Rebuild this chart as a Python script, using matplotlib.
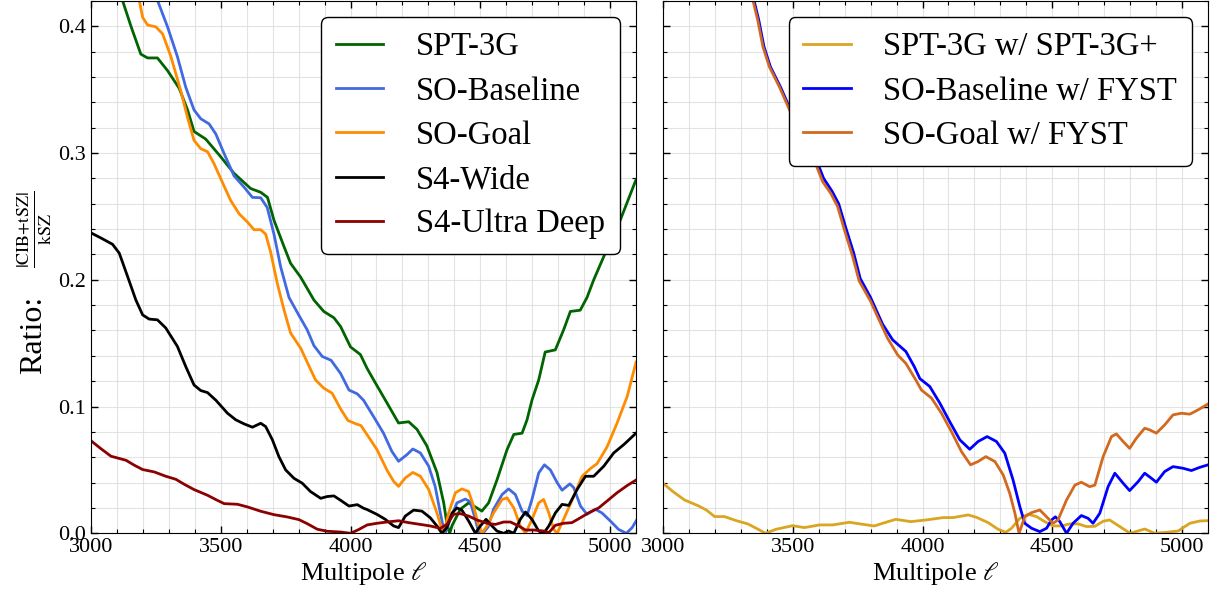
import matplotlib
matplotlib.use("Agg")
import matplotlib.pyplot as plt
from matplotlib.ticker import MultipleLocator

plt.rcParams['font.family'] = 'serif'
plt.rcParams['font.serif'] = ['Liberation Serif', 'DejaVu Serif']
plt.rcParams['mathtext.fontset'] = 'stix'

# ---- left panel: individual experiments ----
spt_l = [3100, 3122, 3154, 3192, 3218, 3256, 3295, 3340, 3372, 3397, 3442, 3500, 3551, 3615,
         3654, 3680, 3705, 3744, 3769, 3808, 3859, 3897, 3936, 3962, 4000, 4038, 4064, 4089,
         4140, 4185, 4224, 4256, 4294, 4333, 4359, 4371, 4382, 4391, 4423, 4455, 4487, 4506,
         4532, 4564, 4603, 4629, 4661, 4680, 4699, 4725, 4750, 4789, 4821, 4847, 4885, 4911,
         4937, 4975, 5039, 5100]
spt_r = [0.44, 0.42, 0.40, 0.378, 0.375, 0.375, 0.365, 0.351, 0.334, 0.317, 0.311, 0.297, 0.284, 0.272,
         0.269, 0.265, 0.247, 0.226, 0.213, 0.202, 0.184, 0.175, 0.170, 0.163, 0.147, 0.141, 0.130, 0.121,
         0.103, 0.087, 0.088, 0.082, 0.069, 0.048, 0.024, 0.008, 0.0, 0.006, 0.019, 0.024, 0.020, 0.0175,
         0.024, 0.042, 0.066, 0.078, 0.079, 0.0895, 0.105, 0.121, 0.143, 0.1447, 0.1605, 0.175, 0.176, 0.186,
         0.200, 0.218, 0.247, 0.279]

sob_l = [3240, 3256, 3295, 3333, 3365, 3397, 3423, 3455, 3481, 3513, 3551, 3590, 3622, 3654,
         3679, 3705, 3731, 3763, 3801, 3833, 3859, 3891, 3925, 3962, 3994, 4026, 4050, 4089,
         4127, 4159, 4185, 4217, 4240, 4269, 4301, 4326, 4346, 4359, 4365, 4384, 4410, 4442,
         4461, 4481, 4494, 4510, 4530, 4551, 4584, 4609, 4635, 4661, 4680, 4699, 4725, 4747,
         4770, 4796, 4815, 4845, 4860, 4886, 4911, 4943, 4969, 5001, 5033, 5063, 5085, 5104]
sob_r = [0.45, 0.4205, 0.3995, 0.376, 0.352, 0.334, 0.327, 0.323, 0.315, 0.2995, 0.282, 0.273, 0.265, 0.2647,
         0.257, 0.236, 0.210, 0.186, 0.172, 0.1605, 0.148, 0.1395, 0.1365, 0.126, 0.113, 0.110, 0.105, 0.092,
         0.079, 0.0647, 0.0568, 0.062, 0.0665, 0.0634, 0.053, 0.037, 0.016, 0.003, 0.0, 0.011, 0.024, 0.027,
         0.025, 0.011, 0.0005, 0.0, 0.005, 0.019, 0.0306, 0.035, 0.0306, 0.0175, 0.014, 0.0267, 0.0476, 0.054,
         0.050, 0.040, 0.034, 0.039, 0.036, 0.0215, 0.015, 0.019, 0.016, 0.0097, 0.003, 0.0, 0.0045, 0.011]

sog_l = [3175, 3186, 3199, 3218, 3250, 3276, 3308, 3346, 3372, 3397, 3423, 3449, 3474, 3506,
         3538, 3571, 3603, 3628, 3654, 3673, 3692, 3718, 3744, 3769, 3808, 3833, 3865, 3897,
         3929, 3962, 3990, 4019, 4040, 4063, 4102, 4140, 4166, 4185, 4211, 4240, 4269, 4301,
         4333, 4352, 4359, 4378, 4404, 4429, 4455, 4474, 4494, 4506, 4526, 4551, 4584, 4603,
         4629, 4654, 4674, 4699, 4725, 4744, 4764, 4783, 4796, 4821, 4860, 4892, 4924, 4950,
         4988, 5027, 5066, 5100]
sog_r = [0.45, 0.4205, 0.407, 0.401, 0.3995, 0.394, 0.376, 0.349, 0.328, 0.31, 0.3034, 0.301, 0.2916, 0.277,
         0.2626, 0.252, 0.2455, 0.2395, 0.2395, 0.236, 0.222, 0.197, 0.176, 0.158, 0.146, 0.135, 0.121, 0.1145,
         0.1105, 0.098, 0.089, 0.0865, 0.085, 0.078, 0.066, 0.050, 0.041, 0.037, 0.0437, 0.048, 0.045, 0.0346,
         0.016, 0.003, 0.0, 0.016, 0.032, 0.035, 0.033, 0.0215, 0.0058, 0.0, 0.0058, 0.016, 0.0267, 0.028,
         0.020, 0.0058, 0.0, 0.011, 0.024, 0.0267, 0.016, 0.003, 0.0, 0.011, 0.029, 0.045, 0.051, 0.055,
         0.068, 0.087, 0.108, 0.135]

s4w_l = [3000, 3038, 3083, 3109, 3141, 3173, 3199, 3224, 3256, 3288, 3333, 3365, 3397, 3423,
         3449, 3481, 3526, 3558, 3590, 3622, 3654, 3673, 3699, 3724, 3750, 3782, 3814, 3846,
         3885, 3910, 3936, 3962, 3994, 4026, 4051, 4063, 4102, 4134, 4166, 4185, 4211, 4243,
         4275, 4307, 4333, 4352, 4371, 4391, 4410, 4429, 4455, 4481, 4500, 4522, 4545, 4564,
         4590, 4609, 4629, 4654, 4674, 4699, 4725, 4744, 4764, 4789, 4815, 4841, 4873, 4905,
         4937, 4976, 5014, 5053, 5100]
s4w_r = [0.237, 0.233, 0.228, 0.221, 0.2026, 0.184, 0.1723, 0.169, 0.1684, 0.162, 0.1474, 0.1316, 0.117, 0.1126,
         0.111, 0.105, 0.0947, 0.0895, 0.0863, 0.0837, 0.0868, 0.0842, 0.0737, 0.0605, 0.050, 0.0434, 0.0395, 0.0329,
         0.0276, 0.029, 0.0295, 0.026, 0.0215, 0.0226, 0.0197, 0.0188, 0.0149, 0.011, 0.0058, 0.0045, 0.0136, 0.0183,
         0.0175, 0.0123, 0.0058, 0.0, 0.0045, 0.016, 0.020, 0.0183, 0.0097, 0.0, 0.0058, 0.011, 0.0058, 0.0018,
         0.0, 0.0018, 0.0, 0.011, 0.0168, 0.011, 0.0018, 0.0, 0.0058, 0.016, 0.0228, 0.022, 0.0346, 0.045,
         0.045, 0.053, 0.0634, 0.070, 0.079]

s4u_l = [3000, 3038, 3077, 3135, 3167, 3199, 3244, 3288, 3327, 3359, 3397, 3449, 3481, 3513,
         3564, 3603, 3654, 3705, 3756, 3801, 3833, 3872, 3910, 3962, 4000, 4032, 4064, 4102,
         4140, 4185, 4224, 4269, 4307, 4346, 4371, 4397, 4423, 4455, 4487, 4526, 4558, 4590,
         4616, 4648, 4674, 4706, 4744, 4764, 4789, 4821, 4853, 4886, 4918, 4956, 4988, 5027,
         5066, 5100]
s4u_r = [0.073, 0.0668, 0.0608, 0.0576, 0.0537, 0.0503, 0.0484, 0.045, 0.0426, 0.0387, 0.0345, 0.030, 0.0266, 0.0234,
         0.0229, 0.0208, 0.0174, 0.0147, 0.0129, 0.0108, 0.0076, 0.0032, 0.0016, 0.001, 0.0, 0.003, 0.0066, 0.0079,
         0.0089, 0.0099, 0.0084, 0.007, 0.0058, 0.0039, 0.007, 0.015, 0.0155, 0.0136, 0.0105, 0.0079, 0.007, 0.0089,
         0.0089, 0.0058, 0.0026, 0.0026, 0.0018, 0.0005, 0.0063, 0.0079, 0.0084, 0.0123, 0.0162, 0.020, 0.0254, 0.032,
         0.0377, 0.042]

# ---- right panel: combined with other experiments ----
sptp_l = [3000, 3038, 3083, 3135, 3167, 3199, 3237, 3282, 3327, 3359, 3395, 3436, 3500, 3545,
          3603, 3654, 3718, 3769, 3814, 3859, 3897, 3955, 4013, 4080, 4118, 4176, 4208, 4253,
          4291, 4321, 4343, 4375, 4407, 4439, 4471, 4503, 4535, 4567, 4600, 4632, 4664, 4696,
          4721, 4760, 4800, 4856, 4895, 4940, 4985, 5030, 5068, 5100]
sptp_r = [0.0395, 0.033, 0.0263, 0.0218, 0.0184, 0.0132, 0.0132, 0.010, 0.0074, 0.004, 0.0, 0.0032, 0.006, 0.0045,
          0.0066, 0.0066, 0.0087, 0.0071, 0.0058, 0.0087, 0.011, 0.0092, 0.0105, 0.0124, 0.0124, 0.0145, 0.0126, 0.0084,
          0.0032, 0.0008, 0.004, 0.0118, 0.015, 0.0132, 0.0092, 0.0058, 0.0058, 0.0074, 0.0074, 0.0053, 0.0055, 0.0095,
          0.0105, 0.0053, 0.0, 0.0034, 0.0, 0.0008, 0.0018, 0.0079, 0.0097, 0.010]

sobf_l = [3340, 3350, 3369, 3389, 3414, 3453, 3491, 3540, 3594, 3619, 3651, 3677, 3703, 3735,
          3760, 3800, 3846, 3885, 3936, 3968, 3990, 4028, 4067, 4105, 4144, 4182, 4214, 4249,
          4285, 4317, 4349, 4375, 4394, 4420, 4452, 4478, 4497, 4512, 4529, 4555, 4580, 4612,
          4638, 4657, 4683, 4715, 4741, 4773, 4798, 4831, 4856, 4882, 4901, 4933, 4965, 5004,
          5036, 5068, 5100]
sobf_r = [0.45, 0.421, 0.405, 0.384, 0.368, 0.352, 0.3343, 0.314, 0.293, 0.280, 0.270, 0.260, 0.242, 0.221,
          0.201, 0.186, 0.165, 0.1526, 0.1434, 0.1316, 0.122, 0.1158, 0.1026, 0.088, 0.0737, 0.0663, 0.0724, 0.0763,
          0.0724, 0.0632, 0.042, 0.021, 0.0079, 0.004, 0.0013, 0.004, 0.0105, 0.013, 0.0092, 0.0, 0.0079, 0.014,
          0.0118, 0.0079, 0.0158, 0.0368, 0.0474, 0.0395, 0.0337, 0.0408, 0.0474, 0.0434, 0.0403, 0.0487, 0.0526, 0.0513,
          0.0495, 0.052, 0.054]

sogf_l = [3336, 3346, 3365, 3385, 3410, 3449, 3487, 3537, 3590, 3615, 3647, 3673, 3699, 3731,
          3756, 3800, 3820, 3865, 3904, 3936, 3974, 3996, 4035, 4073, 4112, 4150, 4185, 4214,
          4244, 4279, 4311, 4336, 4356, 4372, 4394, 4420, 4452, 4478, 4503, 4522, 4555, 4587,
          4612, 4644, 4664, 4696, 4728, 4747, 4773, 4798, 4824, 4856, 4875, 4901, 4933, 4965,
          4997, 5030, 5062, 5094, 5100]
sogf_r = [0.45, 0.421, 0.405, 0.384, 0.368, 0.352, 0.3343, 0.312, 0.2906, 0.2775, 0.268, 0.2577, 0.2394, 0.2183,
          0.199, 0.183, 0.174, 0.154, 0.1408, 0.134, 0.121, 0.113, 0.1066, 0.0947, 0.080, 0.0645, 0.054, 0.0566,
          0.0605, 0.0566, 0.046, 0.0316, 0.0158, 0.0, 0.013, 0.0163, 0.0184, 0.013, 0.0079, 0.0105, 0.0263, 0.038,
          0.0403, 0.0368, 0.038, 0.0605, 0.0763, 0.0784, 0.0724, 0.067, 0.075, 0.0829, 0.0816, 0.079, 0.0855, 0.0934,
          0.0947, 0.094, 0.0974, 0.1013, 0.102]

left_series = [
    (spt_l, spt_r, "darkgreen", "SPT-3G"),
    (sob_l, sob_r, "royalblue", "SO-Baseline"),
    (sog_l, sog_r, "darkorange", "SO-Goal"),
    (s4w_l, s4w_r, "black", "S4-Wide"),
    (s4u_l, s4u_r, "darkred", "S4-Ultra Deep"),
]
right_series = [
    (sptp_l, sptp_r, "goldenrod", "SPT-3G w/ SPT-3G+"),
    (sobf_l, sobf_r, "blue", "SO-Baseline w/ FYST"),
    (sogf_l, sogf_r, "chocolate", "SO-Goal w/ FYST"),
]

fig = plt.figure(figsize=(12.18, 5.98), dpi=100)
ax1 = fig.add_axes([0.0747, 0.1082, 0.4475, 0.8903])
ax2 = fig.add_axes([0.5443, 0.1082, 0.4475, 0.8903], sharey=ax1)

for ax, series in [(ax1, left_series), (ax2, right_series)]:
    for ell, ratio, col, lab in series:
        ax.plot(ell, ratio, color=col, lw=2.0, label=lab)
    ax.set_xlim(3000, 5100)
    ax.set_ylim(0, 0.42)
    ax.xaxis.set_major_locator(MultipleLocator(500))
    ax.xaxis.set_minor_locator(MultipleLocator(100))
    ax.yaxis.set_major_locator(MultipleLocator(0.1))
    ax.yaxis.set_minor_locator(MultipleLocator(0.02))
    ax.grid(which="both", color="#dcdcdc", lw=0.8, alpha=0.8)
    ax.set_axisbelow(True)
    ax.tick_params(which="both", direction="in", top=True, right=True, labelsize=16)
    ax.tick_params(which="major", length=5, width=1)
    ax.tick_params(which="minor", length=3, width=0.8)
    ax.set_xlabel(r"Multipole $\ell$", fontsize=19, labelpad=2)
    ax.legend(loc="upper right", fontsize=23.5, frameon=True, fancybox=True, framealpha=1,
              edgecolor="black", handlelength=1.45, handletextpad=1.0, labelspacing=0.42,
              borderpad=0.45, borderaxespad=0.5)

# y label: plain word plus a smaller fraction, as in the original
ax1.text(-0.106, 0.373, "Ratio:", rotation=90, fontsize=23, ha="center", va="center",
         transform=ax1.transAxes)
ax1.text(-0.104, 0.571, r"$\frac{|\mathrm{CIB{+}tSZ}|}{\mathrm{kSZ}}$", rotation=90,
         fontsize=18.5, ha="center", va="center", transform=ax1.transAxes)
plt.setp(ax2.get_yticklabels(), visible=False)

fig.savefig("out.png", dpi=100)
